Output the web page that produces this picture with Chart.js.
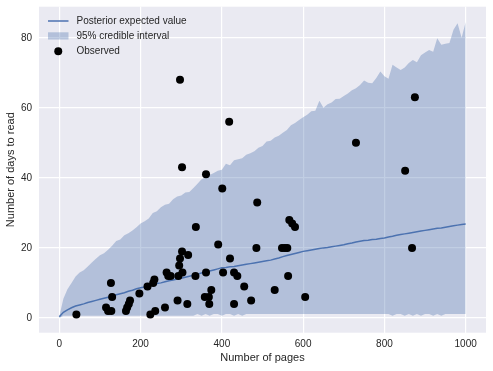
<!DOCTYPE html>
<html><head><meta charset="utf-8">
<script src="https://cdn.jsdelivr.net/npm/chart.js@4.4.0/dist/chart.umd.min.js"></script>
<style>html,body{margin:0;padding:0;background:#fff;}#wrap{width:493px;height:371px;}</style>
</head><body><div id="wrap"><canvas id="c" width="493" height="371"></canvas></div>
<script>
// ---- data ----
const pages = [0,10,20,30,40,50,60,70,80,90,
  100,110,120,130,140,150,160,170,180,190,
  200,210,220,230,240,250,260,270,280,290,
  300,310,320,330,340,350,360,370,380,390,
  400,410,420,430,440,450,460,470,480,490,
  500,510,520,530,540,550,560,570,580,590,
  600,610,620,630,640,650,660,670,680,690,
  700,710,720,730,740,750,760,770,780,790,
  800,810,820,830,840,850,860,870,880,890,
  900,910,920,930,940,950,960,970,980,990,
  1000];
const meanDays = [0.3,1.6,2.3,2.9,3.4,3.7,4.0,4.4,4.7,5.0,
  5.3,5.6,5.9,6.2,6.6,6.9,7.2,7.6,7.9,8.3,
  8.6,8.8,9.1,9.4,9.8,10.0,10.3,10.6,10.8,11.1,
  11.3,11.6,11.9,12.2,12.5,12.8,13.1,13.4,13.7,14.0,
  14.3,14.4,14.6,14.7,14.9,15.1,15.3,15.5,15.7,15.9,
  16.1,16.3,16.5,16.8,17.1,17.5,17.8,18.1,18.4,18.7,
  19.0,19.2,19.4,19.6,19.8,20.0,20.1,20.3,20.5,20.7,
  20.9,21.2,21.4,21.7,21.9,22.1,22.2,22.4,22.5,22.7,
  22.8,23.1,23.3,23.6,23.8,24.0,24.2,24.4,24.6,24.8,
  25.0,25.2,25.4,25.6,25.7,25.9,26.1,26.3,26.5,26.7,
  26.8];
const upperDays = [0.5,5.5,8.2,10.0,11.8,13.0,13.6,14.7,15.8,16.9,
  17.9,18.5,19.5,20.6,22.0,22.4,23.6,24.2,25.0,25.9,
  27.0,27.6,28.4,30.0,30.5,31.6,32.3,32.6,33.9,34.7,
  35.0,35.8,36.0,37.1,38.3,39.6,40.2,40.8,41.4,42.0,
  42.3,44.0,43.6,45.0,45.3,45.6,46.6,47.0,47.6,48.6,
  49.1,50.4,50.6,51.5,52.0,52.9,53.7,55.0,55.7,56.5,
  57.3,58.0,59.0,59.2,62.0,60.0,61.0,61.5,62.5,62.6,
  63.4,64.1,65.0,65.6,66.5,67.8,67.2,67.0,68.5,70.4,
  69.0,68.3,72.3,71.5,70.8,71.5,72.8,73.7,73.0,75.0,
  75.8,76.5,76.0,79.9,78.0,78.3,78.5,82.3,84.2,80.0,
  84.5];
const lowerDays = [0,0.6,0.6,0.6,0.6,0.6,0.6,0.6,0.6,0.6,
  0.6,0.6,0.6,0.6,0.6,0.6,0.6,0.6,0.6,0.6,
  0.6,0.6,0.6,0.6,0.6,0.6,0.6,0.6,0.6,0.6,
  0.6,0.6,0.6,0.6,1.1,0.6,1.1,0.6,1.1,1.1,
  0.6,1.1,1.1,0.6,1.1,0.6,1.1,1.1,1.1,1.1,
  1.1,1.1,1.1,1.1,1.1,1.1,1.1,1.1,1.1,1.1,
  1.1,1.1,1.1,1.1,1.1,1.1,1.1,1.1,1.1,1.1,
  1.1,1.1,1.1,1.1,1.1,1.1,1.1,1.1,1.1,1.1,
  1.1,1.1,0.6,1.1,1.1,0.6,1.1,0.6,1.1,0.6,
  1.1,1.1,0.6,1.1,0.6,1.1,1.1,1.1,1.1,1.1,
  1.1];
const obsPages = [42,115,120,128,127,130,164,167,171,174,
  197,217,224,231,234,236,260,264,268,274,
  291,293,295,297,297,302,303,302,315,317,
  335,336,358,361,361,368,369,374,391,401,
  403,418,420,430,430,438,455,472,485,487,
  530,548,555,561,563,566,573,580,605,730,
  851,868,875];
const obsDays = [1,3,2,2,10,6,2,3,4,5,
  7,9,1,10,11,2,3,13,12,12,
  5,12,15,17,68,19,13,43,4,18,
  12,26,6,13,41,6,4,8,21,37,
  13,56,17,13,4,12,9,5,20,33,
  8,20,20,20,12,28,27,26,6,50,
  42,20,63];
const xTicks = [0,200,400,600,800,1000];
const yTicks = [0,20,40,60,80];
const labels = ['Posterior expected value','95% credible interval','Observed'];

// ---- styling ----
const FONT = '"Liberation Sans", Arial, sans-serif';
const BLUE = '#4C72B0';
const BAND = 'rgba(76,114,176,0.35)';
const TEXT = '#262626';
const toXY = (xs, ys) => xs.map((x, i) => ({x: x, y: ys[i]}));

const bgPlugin = {
  id: 'bg',
  beforeDraw(chart) {
    const {ctx, chartArea: a} = chart;
    ctx.save();
    ctx.fillStyle = '#EAEAF2';
    ctx.fillRect(a.left, a.top, a.right - a.left, a.bottom - a.top);
    ctx.restore();
  }
};

const legendPlugin = {
  id: 'innerLegend',
  afterDatasetsDraw(chart) {
    const {ctx, chartArea: a} = chart;
    const x0 = a.left + 9, x1 = a.left + 29.5, tx = a.left + 37.5;
    const rows = [a.top + 14.3, a.top + 29.2, a.top + 44.6];
    ctx.save();
    ctx.strokeStyle = BLUE; ctx.lineWidth = 1.5;
    ctx.beginPath(); ctx.moveTo(x0, rows[0]); ctx.lineTo(x1, rows[0]); ctx.stroke();
    ctx.fillStyle = BAND;
    ctx.fillRect(x0, rows[1] - 3.6, x1 - x0, 7.2);
    ctx.fillStyle = '#000';
    ctx.beginPath(); ctx.arc((x0 + x1) / 2, rows[2], 4, 0, Math.PI * 2); ctx.fill();
    ctx.fillStyle = TEXT;
    ctx.font = '10px ' + FONT;
    ctx.textAlign = 'left'; ctx.textBaseline = 'middle';
    labels.forEach((t, i) => ctx.fillText(t, tx, rows[i]));
    ctx.restore();
  }
};

new Chart(document.getElementById('c'), {
  type: 'line',
  data: {
    datasets: [
      {label: labels[2], type: 'scatter', data: toXY(obsPages, obsDays),
       backgroundColor: '#000', borderColor: '#000', borderWidth: 0,
       pointRadius: 4, pointHoverRadius: 4, order: 0},
      {label: labels[0], data: toXY(pages, meanDays), borderColor: BLUE, borderWidth: 1.5,
       pointRadius: 0, fill: false, tension: 0, order: 1},
      {label: labels[1], data: toXY(pages, upperDays), borderColor: 'rgba(0,0,0,0)', borderWidth: 0,
       backgroundColor: BAND, pointRadius: 0, fill: '+1', tension: 0, order: 2},
      {label: 'lower', data: toXY(pages, lowerDays), borderColor: 'rgba(0,0,0,0)', borderWidth: 0,
       pointRadius: 0, fill: false, tension: 0, order: 3}
    ]
  },
  options: {
    responsive: false, animation: false, devicePixelRatio: 1,
    layout: {padding: {left: 0, right: 7, top: 6.7, bottom: 0}},
    plugins: {legend: {display: false}, tooltip: {enabled: false}},
    scales: {
      x: {
        type: 'linear', min: -50, max: 1050,
        afterBuildTicks: s => { s.ticks = xTicks.map(v => ({value: v})); },
        afterFit: s => { s.height = 38.3; s.paddingLeft = 0; s.paddingRight = 0; },
        grid: {color: '#ffffff', lineWidth: 1.2, drawTicks: false},
        border: {display: false},
        ticks: {padding: 5.5, color: TEXT, font: {family: FONT, size: 10},
                callback: v => String(v)},
        title: {display: true, text: 'Number of pages', color: TEXT,
                font: {family: FONT, size: 11}, padding: {top: 0, bottom: 6.9}}
      },
      y: {
        type: 'linear', min: -4.23, max: 88.9,
        afterBuildTicks: s => { s.ticks = yTicks.map(v => ({value: v})); },
        afterFit: s => { s.width = 39; s.paddingTop = 0; s.paddingBottom = 0; },
        grid: {color: '#ffffff', lineWidth: 1.2, drawTicks: false},
        border: {display: false},
        ticks: {padding: 7, color: TEXT, font: {family: FONT, size: 10},
                callback: v => String(v)},
        title: {display: true, text: 'Number of days to read', color: TEXT,
                font: {family: FONT, size: 11}, padding: {top: 4.5, bottom: 0}}
      }
    }
  },
  plugins: [bgPlugin, legendPlugin]
});
</script>
</body></html>
